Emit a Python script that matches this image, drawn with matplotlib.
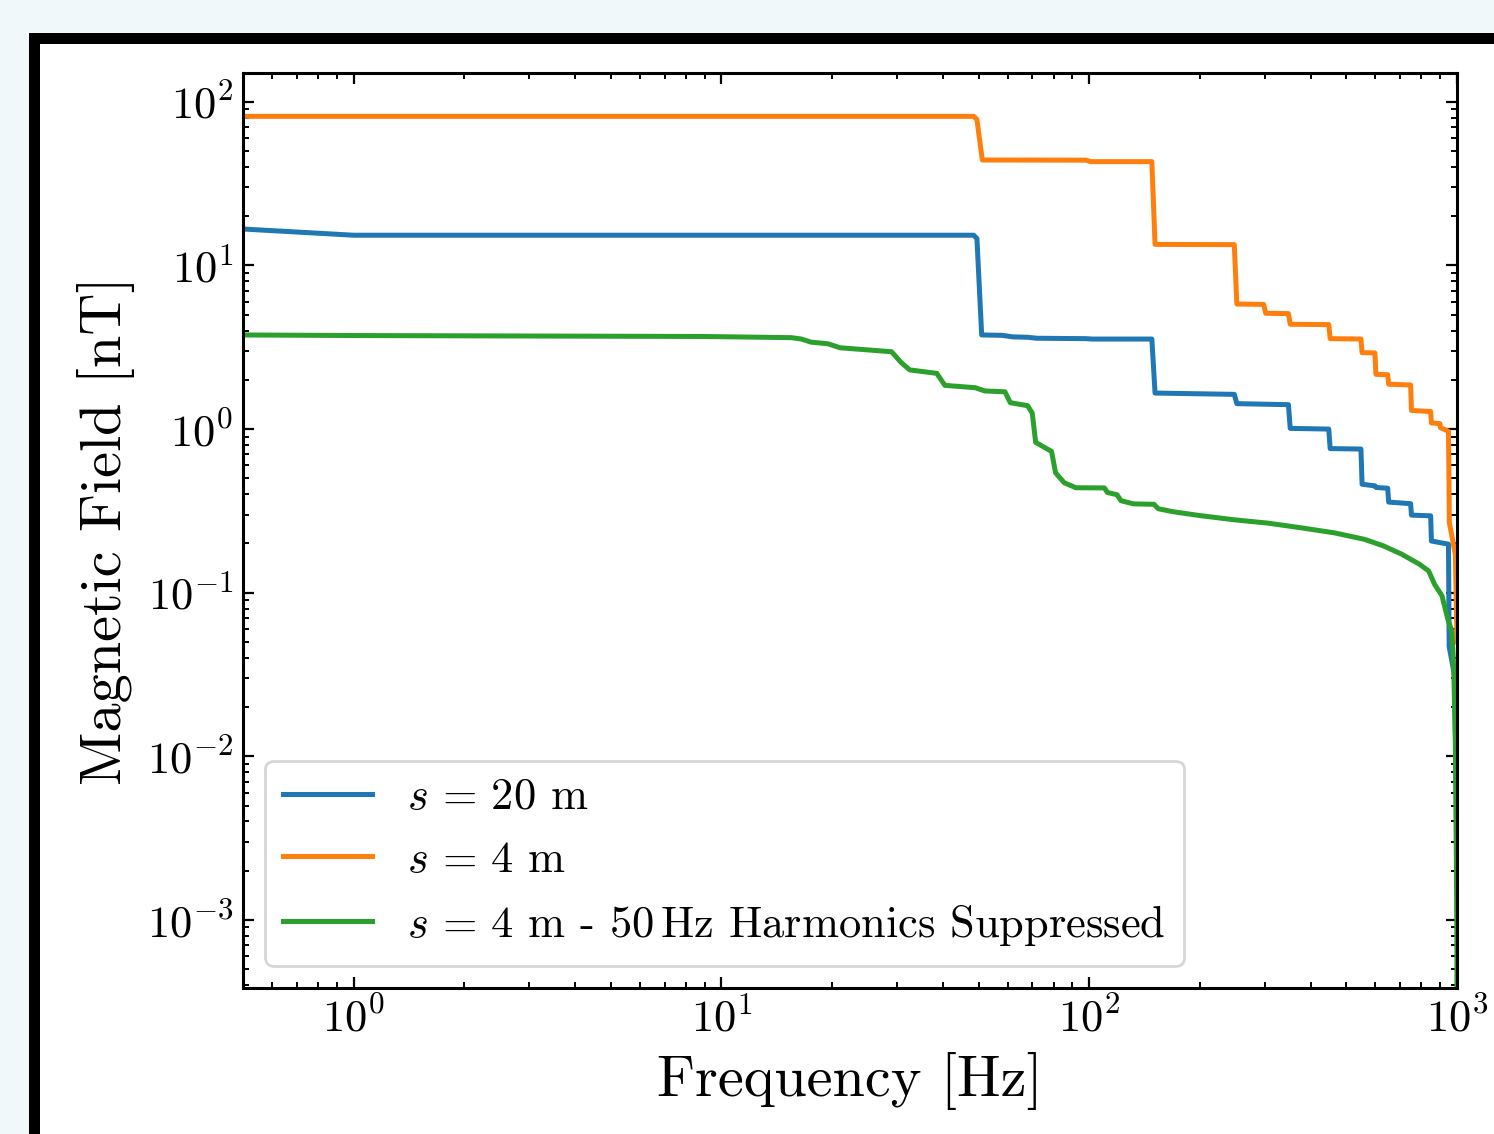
import matplotlib
matplotlib.use("Agg")
import matplotlib.pyplot as plt
from matplotlib.patches import Rectangle

# style ------------------------------------------------------------------
plt.rcParams['font.family'] = 'serif'
plt.rcParams['font.serif'] = ['cmr10']
plt.rcParams['mathtext.fontset'] = 'cm'
plt.rcParams['axes.formatter.use_mathtext'] = True
plt.rcParams['axes.unicode_minus'] = False

# data --------------------------------------------------------------------
f_20m = [0.5, 1.0, 48.5, 49.5, 51, 58, 62, 68, 72, 98, 102, 148, 151, 248, 252,
         348, 352, 448, 452, 548, 552, 598, 602, 648, 652, 748, 752, 848, 852,
         948, 950, 952, 985, 1000]
B_20m = [16.7, 15.3, 15.3, 14.6, 3.76, 3.74, 3.66, 3.64, 3.59, 3.57, 3.55, 3.55,
         1.66, 1.63, 1.43, 1.41, 1.01, 1.0, 0.76, 0.755, 0.46, 0.45, 0.44, 0.435,
         0.358, 0.35, 0.298, 0.295, 0.207, 0.198, 0.1, 0.047, 0.031, 0.003]

f_4m = [0.5, 48.5, 49.5, 51.2, 98, 101, 148, 151, 248, 252, 298, 302, 348, 352,
        448, 452, 548, 552, 598, 602, 648, 652, 748, 752, 848, 852, 898, 902,
        948, 951, 953, 990, 1000]
B_4m = [81.5, 81.5, 78.0, 44.1, 44.0, 43.1, 43.1, 13.45, 13.4, 5.81, 5.78, 5.10,
        5.08, 4.37, 4.35, 3.57, 3.55, 2.93, 2.92, 2.16, 2.15, 1.88, 1.86, 1.30,
        1.28, 1.09, 1.08, 1.02, 0.97, 0.5, 0.27, 0.17, 0.05]

f_4m_supp = [0.5, 1.0, 9.0, 15.5, 16.5, 17.5, 19.5, 21.0, 29.0, 30.8, 32.5, 38.5,
             40.5, 49.0, 52.0, 59.0, 61.0, 68.0, 70.0, 71.5, 79.0, 81.0, 85.5,
             92.0, 110, 112, 119, 122, 132, 150, 154, 170, 200, 248, 307, 378,
             465, 560, 632, 707, 788, 837, 870, 910, 944, 969, 980, 990, 996,
             999, 1000]
B_4m_supp = [3.76, 3.73, 3.68, 3.62, 3.55, 3.40, 3.32, 3.14, 2.97, 2.55, 2.30,
             2.19, 1.85, 1.79, 1.71, 1.69, 1.45, 1.39, 1.25, 0.83, 0.73, 0.54,
             0.47, 0.438, 0.437, 0.41, 0.397, 0.365, 0.349, 0.347, 0.326, 0.312,
             0.296, 0.279, 0.266, 0.249, 0.232, 0.212, 0.193, 0.172, 0.150,
             0.136, 0.112, 0.096, 0.069, 0.058, 0.034, 0.0117, 0.0023, 0.0008,
             0.0003]

labels = [r'$s\,=\,20$ m', r'$s\,=\,4$ m',
          r'$s\,=\,4$ m - $50\,\mathrm{Hz}$ Harmonics Suppressed']

# figure + frame ---------------------------------------------------------
W, H = 1494, 1134
fig = plt.figure(figsize=(W / 200, H / 200), dpi=200, facecolor='#f0f8fa')
fig.add_artist(Rectangle((29 / W, -0.1), 1.2, 1.1 - 33 / H, transform=fig.transFigure,
                         facecolor='black', edgecolor='none', zorder=-10))
fig.add_artist(Rectangle((39.5 / W, -0.1), 1.2, 1.1 - 43.5 / H, transform=fig.transFigure,
                         facecolor='white', edgecolor='none', zorder=-9))

ax = fig.add_axes([243 / W, 1 - 988 / H, (1457 - 243) / W, (988 - 73) / H])

# plot ---------------------------------------------------------------------
ax.plot(f_20m, B_20m, color='#1f77b4', lw=1.8, label=labels[0])
ax.plot(f_4m, B_4m, color='#ff7f0e', lw=1.8, label=labels[1])
ax.plot(f_4m_supp, B_4m_supp, color='#2ca02c', lw=1.8, label=labels[2])

ax.set_xscale('log')
ax.set_yscale('log')
ax.set_xlim(0.5, 1000)
ax.set_ylim(3.84e-4, 150)

ax.set_xlabel('Frequency [Hz]', fontsize=21)
ax.set_ylabel('Magnetic Field [nT]', fontsize=21)

ax.tick_params(which='both', direction='in', top=True, right=True, labelsize=16)
ax.tick_params(which='major', length=4, width=0.8)
ax.tick_params(which='minor', length=2.3, width=0.7)
for s in ax.spines.values():
    s.set_linewidth(1.1)

ax.legend(loc='lower left', fontsize=16, framealpha=0.8, edgecolor='#cccccc')

plt.savefig('out.png', dpi=200, facecolor=fig.get_facecolor())
